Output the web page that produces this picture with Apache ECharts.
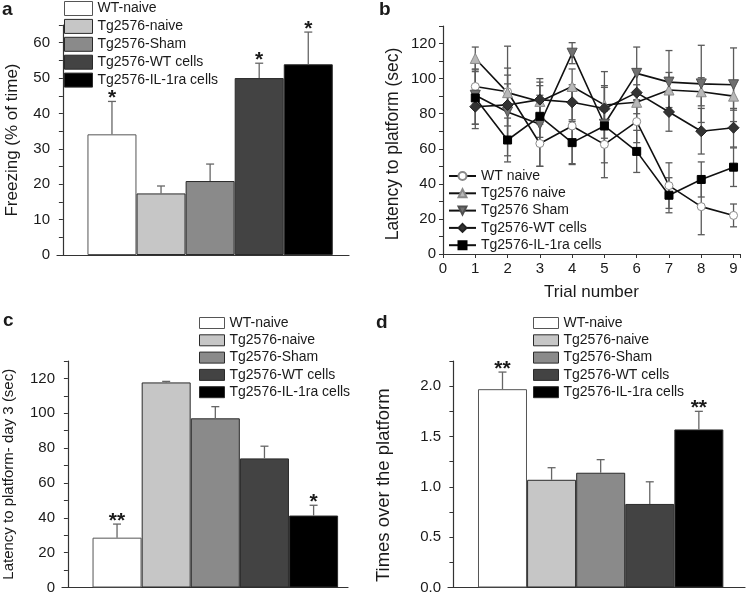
<!DOCTYPE html>
<html lang="en">
<head>
<meta charset="UTF-8">
<title>Behaviour tests</title>
<script src="https://cdn.jsdelivr.net/npm/echarts@6.0.0/dist/echarts.min.js"></script>
<style>html, body { margin: 0; padding: 0; background: #fff; }</style>
</head>
<body>
<div id="chart" style="width: 750px; height: 595px;"></div>
<script>
    // groups shown in the bar panels (a, c, d)
    const groups = ['WT-naive', 'Tg2576-naive', 'Tg2576-Sham', 'Tg2576-WT cells', 'Tg2576-IL-1ra cells'];
    const barPos = [1, 2, 3, 4, 5];

    // a: freezing
    const freezing = [34.1, 17.4, 20.9, 50.0, 53.9];
    const freezingErr = [9.3, 2.1, 4.8, 4.2, 9.1];
    const freezingStars = ['*', '', '', '*', '*'];

    // c: latency on day 3
    const day3Latency = [28.6, 117.7, 97.1, 74.1, 41.3];
    const day3Err = [7.8, 0.6, 6.7, 7.0, 5.9];
    const day3Stars = ['**', '', '', '', '*'];

    // d: platform crossings
    const crossings = [1.97, 1.07, 1.14, 0.83, 1.57];
    const crossingsErr = [0.17, 0.12, 0.13, 0.22, 0.18];
    const crossingsStars = ['**', '', '', '', '**'];

    // b: latency per trial
    const trials = [1, 2, 3, 4, 5, 6, 7, 8, 9];
    const lineNames = ['WT naive', 'Tg2576 naive', 'Tg2576 Sham', 'Tg2576-WT cells', 'Tg2576-IL-1ra cells'];
    const wtNaive = [95.5, 92.5, 63, 73, 62.5, 75.5, 39, 27, 22];
    const wtNaiveErr = [10, 26, 13, 22, 19, 12, 13, 16, 6.5];
    const tgNaive = [111.5, 92, 87, 95.5, 85, 86.5, 93.5, 92.5, 90];
    const tgNaiveErr = [6.5, 10, 13, 10, 19, 10, 10, 8, 8];
    const tgSham = [90.5, 81, 74, 114.5, 74, 103, 98, 97, 96.5];
    const tgShamErr = [19, 25, 24, 6, 22, 15, 18, 22, 21];
    const wtCells = [84, 85, 88, 86.5, 83, 92, 81, 70, 72];
    const wtCellsErr = [10, 12, 8, 10, 12, 12, 11, 13, 11];
    const ilCells = [89, 65, 78.5, 63.5, 73, 58.5, 33.5, 42.5, 49.5];
    const ilCellsErr = [15, 12.5, 12, 12, 10, 12, 10, 10, 11];

    const font = '"Liberation Sans", Arial, sans-serif';
    const ink = '#1a1a1a';
    const barFill = ['#ffffff', '#c6c6c6', '#8a8a8a', '#434343', '#000000'];
    const barEdge = ['#555555', '#2a2a2a', '#2a2a2a', '#2a2a2a', '#2a2a2a'];
    const lineStyles = [
        {symbol: 'circle', size: 8, rotate: 0, fill: '#ffffff', border: '#8a8a8a'},
        {symbol: 'triangle', size: 10, rotate: 0, fill: '#b8b8b8', border: '#8a8a8a'},
        {symbol: 'triangle', size: 10, rotate: 180, fill: '#707070', border: '#505050'},
        {symbol: 'diamond', size: 11, rotate: 0, fill: '#333333', border: '#222222'},
        {symbol: 'rect', size: 8, rotate: 0, fill: '#000000', border: '#000000'}
    ];
    const lineValues = [wtNaive, tgNaive, tgSham, wtCells, ilCells];
    const lineErrors = [wtNaiveErr, tgNaiveErr, tgShamErr, wtCellsErr, ilCellsErr];

    function barSeries(values, idx) {
        return groups.map(function (name, i) {
            return {
                name: name,
                type: 'bar',
                xAxisIndex: idx,
                yAxisIndex: idx,
                stack: 'panel' + idx,
                barWidth: 49,
                silent: true,
                data: [[barPos[i], values[i]]],
                itemStyle: {color: barFill[i], borderColor: barEdge[i], borderWidth: 1}
            };
        });
    }

    function barErrors(values, errs, stars, idx) {
        return {
            type: 'custom',
            xAxisIndex: idx,
            yAxisIndex: idx,
            silent: true,
            z: 5,
            data: values.map(function (v, i) { return [barPos[i], v, v + errs[i]]; }),
            renderItem: function (params, api) {
                const i = params.dataIndex;
                const base = api.coord([api.value(0), api.value(1)]);
                const top = api.coord([api.value(0), api.value(2)]);
                const pen = {stroke: '#666', lineWidth: 1.3};
                const kids = [
                    {type: 'line', shape: {x1: top[0], y1: base[1], x2: top[0], y2: top[1]}, style: pen},
                    {type: 'line', shape: {x1: top[0] - 4, y1: top[1], x2: top[0] + 4, y2: top[1]}, style: pen}
                ];
                if (stars[i]) {
                    kids.push({
                        type: 'text',
                        style: {
                            text: stars[i], x: top[0], y: top[1] - 3,
                            align: 'center', verticalAlign: 'middle',
                            font: 'bold 21px ' + font, fill: ink
                        }
                    });
                }
                return {type: 'group', children: kids};
            }
        };
    }

    function lineErrorSeries(values, errs) {
        return {
            type: 'custom',
            xAxisIndex: 1,
            yAxisIndex: 1,
            silent: true,
            z: 1,
            data: values.map(function (v, i) { return [trials[i], v - errs[i], v + errs[i]]; }),
            renderItem: function (params, api) {
                const lo = api.coord([api.value(0), api.value(1)]);
                const hi = api.coord([api.value(0), api.value(2)]);
                const pen = {stroke: '#5a5a5a', lineWidth: 1.3};
                return {
                    type: 'group',
                    children: [
                        {type: 'line', shape: {x1: lo[0], y1: lo[1], x2: hi[0], y2: hi[1]}, style: pen},
                        {type: 'line', shape: {x1: hi[0] - 3.5, y1: hi[1], x2: hi[0] + 3.5, y2: hi[1]}, style: pen},
                        {type: 'line', shape: {x1: lo[0] - 3.5, y1: lo[1], x2: lo[0] + 3.5, y2: lo[1]}, style: pen}
                    ]
                };
            }
        };
    }

    function lineSeries() {
        return lineNames.map(function (name, k) {
            const st = lineStyles[k];
            return {
                name: name,
                type: 'line',
                xAxisIndex: 1,
                yAxisIndex: 1,
                z: 4,
                silent: true,
                data: trials.map(function (t, i) { return [t, lineValues[k][i]]; }),
                symbol: st.symbol,
                symbolSize: st.size,
                symbolRotate: st.rotate,
                showAllSymbol: true,
                lineStyle: {color: '#111', width: 1.6},
                itemStyle: {color: st.fill, borderColor: st.border, borderWidth: 1}
            };
        });
    }

    function axisBase() {
        return {
            axisLine: {lineStyle: {color: '#333', width: 1.2}},
            axisTick: {show: true, inside: false, length: 4, lineStyle: {color: '#333'}},
            splitLine: {show: false},
            axisLabel: {color: ink, fontFamily: font, fontSize: 15, margin: 7},
            nameTextStyle: {color: ink, fontFamily: font, fontSize: 17}
        };
    }

    function barXAxis(idx, min, max) {
        return Object.assign(axisBase(), {
            type: 'value', gridIndex: idx, min: min, max: max,
            axisTick: {show: false}, axisLabel: {show: false}
        });
    }

    function valueYAxis(idx, max, step, every, digits, name, gap, size, pad) {
        const ax = axisBase();
        ax.axisLabel.formatter = function (v) {
            const r = v / every;
            return Math.abs(r - Math.round(r)) < 1e-6 ? v.toFixed(digits) : '';
        };
        ax.nameTextStyle.fontSize = size;
        ax.nameTextStyle.padding = pad;
        return Object.assign(ax, {
            type: 'value', gridIndex: idx, min: 0, max: max, interval: step,
            name: name, nameLocation: 'middle', nameGap: gap
        });
    }

    function barLegend(left, top, w, h, gap) {
        return {
            orient: 'vertical', left: left, top: top, padding: 0,
            itemWidth: w, itemHeight: h, itemGap: gap,
            icon: 'rect', selectedMode: false,
            data: groups.map(function (g, i) {
                return {name: g, itemStyle: {color: barFill[i], borderColor: barEdge[i], borderWidth: 1}};
            }),
            textStyle: {color: ink, fontFamily: font, fontSize: 14}
        };
    }

    const trialAxis = axisBase();
    trialAxis.axisLabel.formatter = function (v) { return Number.isInteger(v) ? String(v) : ''; };

    const chart = echarts.init(document.getElementById('chart'), null, {renderer: 'canvas'});
    chart.setOption({
        animation: false,
        backgroundColor: '#fff',
        grid: [
            {left: 57, top: 25, width: 292, height: 230},
            {left: 443, top: 26, width: 297, height: 228},
            {left: 62, top: 361, width: 286, height: 228},
            {left: 448, top: 361, width: 297, height: 228}
        ],
        xAxis: [
            barXAxis(0, -0.12, 5.83),
            Object.assign(trialAxis, {
                type: 'value', gridIndex: 1, min: 0, max: 9.2, interval: 1,
                name: 'Trial number', nameLocation: 'middle', nameGap: 30
            }),
            barXAxis(2, -0.12, 5.70),
            barXAxis(3, -0.11, 5.94)
        ],
        yAxis: [
            valueYAxis(0, 65, 5, 10, 0, 'Freezing (% of time)', 36, 17, 0),
            valueYAxis(1, 130, 10, 20, 0, 'Latency to platform (sec)', 41, 17.5, [0, 8, 0, 0]),
            valueYAxis(2, 130, 10, 20, 0, 'Latency to platform- day 3 (sec)', 46, 15, 0),
            valueYAxis(3, 2.25, 0.25, 0.5, 1, 'Times over the platform', 55, 18.5, [0, 22, 0, 0])
        ],
        legend: [
            barLegend(64, 1, 28, 14, 2.9),
            {
                orient: 'vertical', left: 448, top: 169, padding: 0,
                itemWidth: 27, itemHeight: 10, itemGap: 3.3, selectedMode: false,
                data: lineNames,
                textStyle: {color: ink, fontFamily: font, fontSize: 14}
            },
            barLegend(199, 316, 25, 11, 3.3),
            barLegend(533, 316, 25, 11, 3.3)
        ],
        graphic: [
            {type: 'text', left: 2, top: 0, style: {text: 'a', font: 'bold 19px ' + font, fill: ink}},
            {type: 'text', left: 379, top: 0, style: {text: 'b', font: 'bold 19px ' + font, fill: ink}},
            {type: 'text', left: 3, top: 311, style: {text: 'c', font: 'bold 19px ' + font, fill: ink}},
            {type: 'text', left: 376, top: 313, style: {text: 'd', font: 'bold 19px ' + font, fill: ink}}
        ],
        series: [].concat(
            lineSeries(),
            lineErrors.map(function (e, k) { return lineErrorSeries(lineValues[k], e); }),
            barSeries(freezing, 0),
            [barErrors(freezing, freezingErr, freezingStars, 0)],
            barSeries(day3Latency, 2),
            [barErrors(day3Latency, day3Err, day3Stars, 2)],
            barSeries(crossings, 3),
            [barErrors(crossings, crossingsErr, crossingsStars, 3)]
        )
    });
</script>
</body>
</html>
